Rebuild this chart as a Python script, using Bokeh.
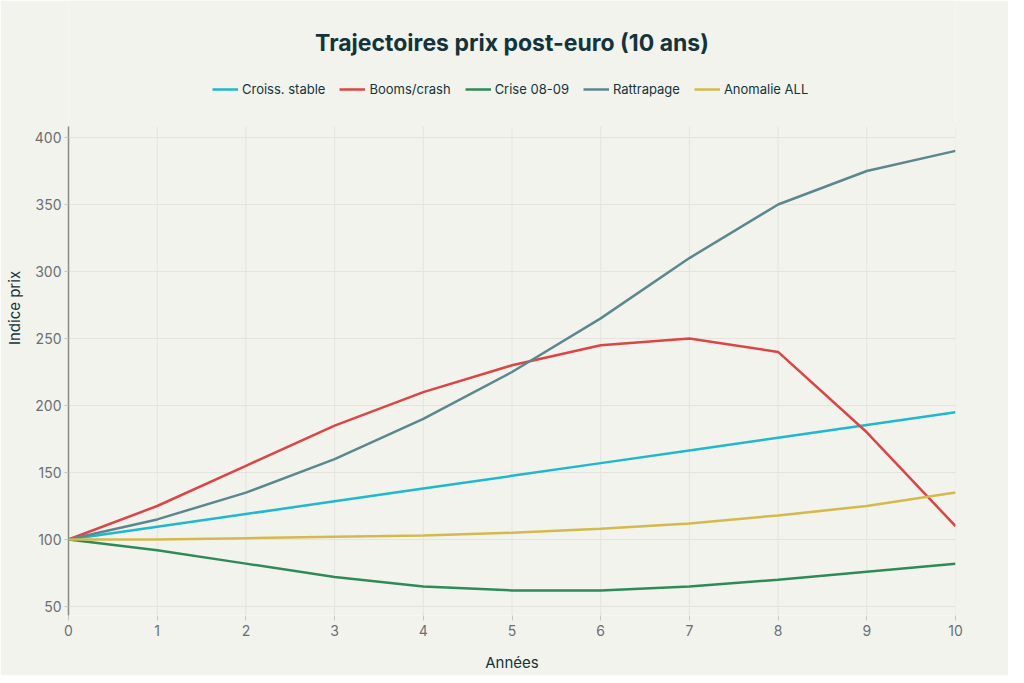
from bokeh.plotting import figure
from bokeh.models import Legend, LegendItem, SingleIntervalTicker, Label
from bokeh.embed import file_html
from bokeh.resources import INLINE

# data
years = [0, 1, 2, 3, 4, 5, 6, 7, 8, 9, 10]
croiss_stable = [100, 109.5, 119, 128.5, 138, 147.5, 157, 166.5, 176, 185.5, 195]
booms_crash = [100, 125, 155, 185, 210, 230, 245, 250, 240, 180, 110]
crise_0809 = [100, 92, 82, 72, 65, 62, 62, 65, 70, 76, 82]
rattrapage = [100, 115, 135, 160, 190, 225, 265, 310, 350, 375, 390]
anomalie_all = [100, 100, 101, 102, 103, 105, 108, 112, 118, 125, 135]

series_names = ["Croiss. stable", "Booms/crash", "Crise 08-09", "Rattrapage", "Anomalie ALL"]
series_values = [croiss_stable, booms_crash, crise_0809, rattrapage, anomalie_all]
colors = ["#1FB8CD", "#DB4545", "#2E8B57", "#5D878F", "#D2BA4C"]

BG = "#F3F3EE"
FONT = "Inter"
GRID = "#E4E4DF"

# visible data area; the frame reaches to the top of the figure so that
# the title and legend can sit inside it without being clipped
Y_LOW, Y_HIGH = 43.3, 408
FRAME_W, FRAME_H = 887, 615

p = figure(
    width=1008,
    height=675,
    x_range=(0, 10),
    y_range=(Y_LOW, 502.2),
    output_backend="svg",
    toolbar_location=None,
    background_fill_color=BG,
    border_fill_color=BG,
    outline_line_color=None,
    min_border_left=68,
    min_border_right=53,
    min_border_top=0,
    min_border_bottom=60,
)

# vertical grid lines, stopping at the top of the data area
p.xgrid.grid_line_color = None
p.segment(x0=years, y0=[Y_LOW] * len(years), x1=years, y1=[Y_HIGH] * len(years),
          line_color=GRID, line_width=1)
p.ygrid.grid_line_color = GRID
p.ygrid.bounds = (Y_LOW, Y_HIGH)

items = []
for name, vals, col in zip(series_names, series_values, colors):
    r = p.line(years, vals, line_color=col, line_width=2.5)
    items.append(LegendItem(label=name, renderers=[r]))

title = Label(
    x=FRAME_W / 2, y=FRAME_H - 42, x_units="screen", y_units="screen",
    text="Trajectoires prix post-euro (10 ans)",
    text_align="center", text_baseline="middle",
    text_font=FONT, text_font_size="23px", text_font_style="bold",
    text_color="#13343B",
)
p.add_layout(title)

legend = Legend(
    items=items,
    orientation="horizontal",
    location=(144, FRAME_H - 87 - 12),
    background_fill_alpha=0,
    border_line_color=None,
    label_text_font=FONT,
    label_text_font_size="13px",
    label_text_color="#13343B",
    glyph_width=26,
    label_standoff=4,
    spacing=14,
    margin=0,
    padding=4,
)
p.add_layout(legend)

p.xaxis.ticker = SingleIntervalTicker(interval=1)
p.yaxis.ticker = SingleIntervalTicker(interval=50)
p.yaxis.bounds = (Y_LOW, Y_HIGH)
p.xaxis.minor_tick_line_color = None
p.yaxis.minor_tick_line_color = None

p.xaxis.axis_line_color = None
p.xaxis.major_tick_line_color = "#C8C8C4"
p.xaxis.major_tick_in = 0
p.xaxis.major_tick_out = 5
p.yaxis.axis_line_color = "#8A8A88"
p.yaxis.axis_line_width = 1.5
p.yaxis.major_tick_line_color = "#C8C8C4"
p.yaxis.major_tick_in = 0
p.yaxis.major_tick_out = 4

for ax in (p.xaxis, p.yaxis):
    ax.major_label_text_font = FONT
    ax.major_label_text_font_size = "14px"
    ax.major_label_text_color = "#6B6F74"
    ax.axis_label_text_font = FONT
    ax.axis_label_text_font_size = "15px"
    ax.axis_label_text_font_style = "normal"
    ax.axis_label_text_color = "#13343B"

p.xaxis.axis_label = "Années"
p.yaxis.axis_label = "Indice prix"
p.xaxis.major_label_standoff = 4
p.xaxis.axis_label_standoff = 14
p.yaxis.major_label_standoff = 3
p.yaxis.axis_label_standoff = 8

open("out.html", "w").write(file_html(p, INLINE))
